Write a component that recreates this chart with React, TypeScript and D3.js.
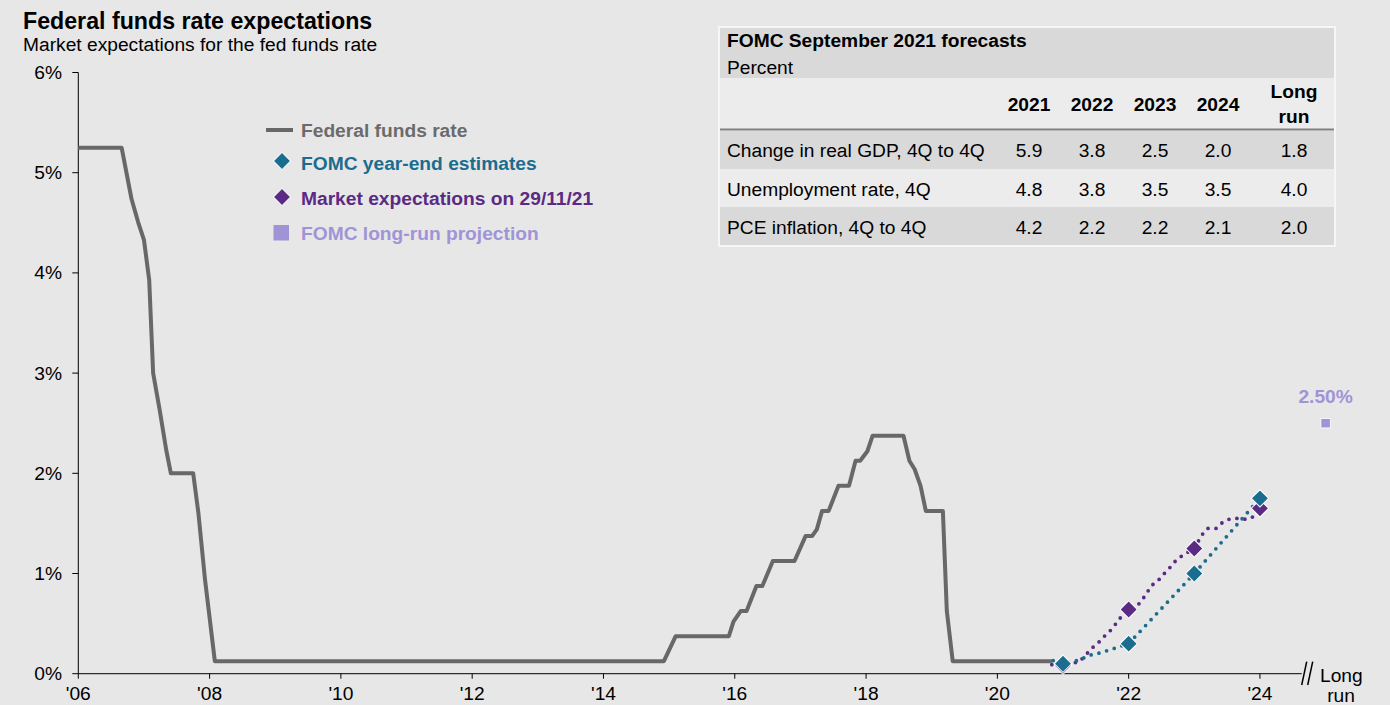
import * as React from 'react'
import * as d3 from 'd3'

// federal funds rate (year position on the axis, percent)
const fedYears = [2006.0, 2006.66, 2006.81, 2006.91, 2007.0, 2007.08, 2007.14, 2007.24, 2007.34, 2007.41, 2007.75, 2007.83, 2007.93, 2008.08,
	2014.92, 2015.1, 2015.91, 2015.98, 2016.09, 2016.18, 2016.33, 2016.42, 2016.58, 2016.91, 2017.08, 2017.18, 2017.25, 2017.33, 2017.43,
	2017.58, 2017.74, 2017.84, 2017.91, 2018.02, 2018.1, 2018.57, 2018.66, 2018.74, 2018.83, 2018.91, 2019.17, 2019.23, 2019.32, 2020.83]
const fedRates = [5.25, 5.25, 4.74, 4.51, 4.33, 3.93, 3.0, 2.63, 2.23, 2.0, 2.0, 1.6, 0.94, 0.125,
	0.125, 0.375, 0.375, 0.52, 0.625, 0.625, 0.875, 0.875, 1.125, 1.125, 1.375, 1.375, 1.44, 1.625, 1.625,
	1.875, 1.875, 2.125, 2.125, 2.22, 2.375, 2.375, 2.125, 2.04, 1.875, 1.625, 1.625, 0.625, 0.125, 0.125]

const estYears = [2021, 2022, 2023, 2024]
const fomcEstimates = [0.1, 0.3, 1.0, 1.75]
const marketEstimates = [0.08, 0.64, 1.25, 1.65]

const fomcPathYears = [2020.85, 2021.0, 2021.13, 2021.25, 2021.38, 2021.52, 2021.65, 2021.77, 2021.9, 2022.0, 2023.0, 2024.0]
const fomcPathRates = [0.13, 0.1, 0.12, 0.135, 0.18, 0.2, 0.225, 0.25, 0.28, 0.3, 1.0, 1.75]

const marketPathYears = [2020.83, 2021.0, 2021.12, 2021.25, 2021.35, 2021.45, 2021.54, 2021.64, 2021.72, 2021.82, 2021.9, 2022.0,
	2022.12, 2022.2, 2022.35, 2022.45, 2022.53, 2022.63, 2022.72, 2022.82, 2023.0, 2023.11, 2023.2, 2023.33, 2023.41, 2023.52,
	2023.66, 2023.8, 2023.95, 2024.0]
const marketPathRates = [0.09, 0.08, 0.1, 0.12, 0.19, 0.26, 0.31, 0.38, 0.43, 0.51, 0.58, 0.64,
	0.67, 0.73, 0.88, 0.93, 0.99, 1.06, 1.13, 1.18, 1.25, 1.38, 1.45, 1.45, 1.5, 1.54,
	1.55, 1.54, 1.58, 1.65]

const longRunYear = 2025
const longRunValue = 2.5

const yTicks = [0, 1, 2, 3, 4, 5, 6]
const xTicks = [2006, 2008, 2010, 2012, 2014, 2016, 2018, 2020, 2022, 2024]

const tableCols = ['2021', '2022', '2023', '2024', 'Long run']
const tableRows = ['Change in real GDP, 4Q to 4Q', 'Unemployment rate, 4Q', 'PCE inflation, 4Q to 4Q']
const gdpValues = ['5.9', '3.8', '2.5', '2.0', '1.8']
const unempValues = ['4.8', '3.8', '3.5', '3.5', '4.0']
const pceValues = ['4.2', '2.2', '2.2', '2.1', '2.0']

const GRAY = '#686868'
const TEAL = '#1b6d8f'
const PURPLE = '#5b2a84'
const LAVENDER = '#a094d6'
const FONT = '"Liberation Sans", Arial, sans-serif'

const App: React.FC = () => {
	const width = 1390
	const height = 705
	const x = d3.scaleLinear().domain([2006, 2025]).range([78.3, 1325.6])
	const y = d3.scaleLinear().domain([0, 6]).range([673.7, 72.5])

	const line = d3.line<[number, number]>().x(d => x(d[0])).y(d => y(d[1]))
	const fedPath = line(fedYears.map((t, i) => [t, fedRates[i]]))
	const fomcPath = line(fomcPathYears.map((t, i) => [t, fomcPathRates[i]]))
	const marketPath = line(marketPathYears.map((t, i) => [t, marketPathRates[i]]))
	const diamond = d3.symbol().type(d3.symbolSquare).size(150)()!

	const axisEnd = 1301.7
	const colX = (i: number) => 1029 + i * 63 + (i === 4 ? 13 : 0)
	const rowValues = [gdpValues, unempValues, pceValues]
	const fs = 19.2

	return (
		<svg width={width} height={height} style={{ position: 'absolute', left: 0, top: 0 }} fontFamily={FONT}>
			<rect width={width} height={height} fill='#e7e7e7' />

			<text x={23} y={29} fontSize={23.2} fontWeight='bold' fill='#000'>Federal funds rate expectations</text>
			<text x={23} y={51} fontSize={19.2} fill='#000'>Market expectations for the fed funds rate</text>

			{/* y axis */}
			<line x1={x(2006)} x2={x(2006)} y1={y(0)} y2={y(6)} stroke='#000' strokeWidth={1} />
			{yTicks.map(t => (
				<g key={t}>
					<line x1={x(2006) - 6} x2={x(2006)} y1={y(t)} y2={y(t)} stroke='#000' />
					<text x={62} y={y(t) + 6.5} fontSize={fs} textAnchor='end'>{t}%</text>
				</g>
			))}

			{/* x axis */}
			<line x1={x(2006)} x2={axisEnd} y1={y(0)} y2={y(0)} stroke='#000' />
			{xTicks.map(t => (
				<g key={t}>
					<line x1={x(t)} x2={x(t)} y1={y(0)} y2={y(0) + 5} stroke='#000' />
					<text x={x(t)} y={700} fontSize={fs} textAnchor='middle'>{`'${String(t).slice(2)}`}</text>
				</g>
			))}
			<line x1={1301.7} y1={685} x2={1306.7} y2={661.7} stroke='#000' strokeWidth={1.5} />
			<line x1={1307.7} y1={685} x2={1312.7} y2={661.7} stroke='#000' strokeWidth={1.5} />
			<text x={1320} y={682} fontSize={fs}>Long</text>
			<text x={1341} y={702} fontSize={fs} textAnchor='middle'>run</text>

			{/* series */}
			<path d={fedPath!} fill='none' stroke={GRAY} strokeWidth={4} strokeLinejoin='round' />
			<path d={marketPath!} fill='none' stroke={PURPLE} strokeWidth={3.8} strokeDasharray='0 8' strokeLinecap='round' />
			<path d={fomcPath!} fill='none' stroke={TEAL} strokeWidth={3.8} strokeDasharray='0 8' strokeLinecap='round' />
			{estYears.map((t, i) => (
				<path key={'m' + t} d={diamond} transform={`translate(${x(t)},${y(marketEstimates[i])}) rotate(45)`}
					fill={PURPLE} stroke='#fff' strokeWidth={1} />
			))}
			{estYears.map((t, i) => (
				<path key={'f' + t} d={diamond} transform={`translate(${x(t)},${y(fomcEstimates[i])}) rotate(45)`}
					fill={TEAL} stroke='#fff' strokeWidth={1} />
			))}
			<rect x={x(longRunYear) - 4.7} y={y(longRunValue) - 4.7} width={9.4} height={9.4} fill={LAVENDER} stroke='#fff' strokeWidth={0.8} />
			<text x={x(longRunYear)} y={y(longRunValue) - 20} fontSize={fs} fontWeight='bold' fill={LAVENDER} textAnchor='middle'>2.50%</text>

			{/* legend */}
			<line x1={266} x2={293} y1={130} y2={130} stroke={GRAY} strokeWidth={4} />
			<text x={301} y={137} fontSize={fs} fontWeight='bold' fill='#6b6b6b'>Federal funds rate</text>
			<path d={diamond} transform='translate(282,161) rotate(45)' fill={TEAL} stroke='#fff' strokeWidth={1} />
			<text x={301} y={170} fontSize={fs} fontWeight='bold' fill={TEAL}>FOMC year-end estimates</text>
			<path d={diamond} transform='translate(282,197) rotate(45)' fill={PURPLE} stroke='#fff' strokeWidth={1} />
			<text x={301} y={205} fontSize={fs} fontWeight='bold' fill={PURPLE}>Market expectations on 29/11/21</text>
			<rect x={273.5} y={225} width={15.5} height={15.5} fill={LAVENDER} />
			<text x={301} y={240} fontSize={fs} fontWeight='bold' fill={LAVENDER}>FOMC long-run projection</text>

			{/* table */}
			<g>
				<rect x={719} y={27} width={616} height={219} fill='#ececec' stroke='#f6f6f6' strokeWidth={2} />
				<rect x={720} y={28} width={614} height={50} fill='#d9d9d9' />
				<rect x={720} y={131} width={614} height={38} fill='#d9d9d9' />
				<rect x={720} y={207} width={614} height={38} fill='#d9d9d9' />
				<line x1={720} x2={1334} y1={129.5} y2={129.5} stroke='#808080' strokeWidth={2} />
				<text x={727} y={47} fontSize={fs} fontWeight='bold'>FOMC September 2021 forecasts</text>
				<text x={727} y={74} fontSize={fs}>Percent</text>
				{tableCols.map((c, i) => i < 4 ? (
					<text key={c} x={colX(i)} y={111} fontSize={fs} fontWeight='bold' textAnchor='middle'>{c}</text>
				) : (
					<text key={c} x={colX(i)} fontSize={fs} fontWeight='bold' textAnchor='middle'>
						<tspan x={colX(i)} y={98}>Long</tspan>
						<tspan x={colX(i)} y={123}>run</tspan>
					</text>
				))}
				{tableRows.map((r, j) => (
					<g key={r}>
						<text x={727} y={157 + j * 38.5} fontSize={fs}>{r}</text>
						{rowValues[j].map((v, i) => (
							<text key={i} x={colX(i)} y={157 + j * 38.5} fontSize={fs} textAnchor='middle'>{v}</text>
						))}
					</g>
				))}
			</g>
		</svg>
	)
}

export default App
